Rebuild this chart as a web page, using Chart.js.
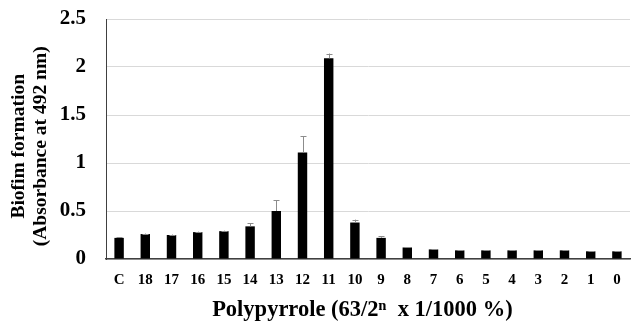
<!DOCTYPE html>
<html>
<head>
<meta charset="utf-8">
<script src="https://cdn.jsdelivr.net/npm/chart.js@4/dist/chart.umd.min.js"></script>
<style>
  html, body { margin: 0; padding: 0; background: #ffffff; }
  #wrap { width: 640px; height: 329px; }
</style>
</head>
<body>
<div id="wrap"><canvas id="c" width="640" height="329"></canvas></div>
<script>
// Polypyrrole dilution steps (C = control)
const categories = ['C', '18', '17', '16', '15', '14', '13', '12', '11', '10', '9', '8', '7', '6', '5', '4', '3', '2', '1', '0'];
// Mean absorbance at 492 nm
const absorbance = [0.22, 0.26, 0.25, 0.28, 0.29, 0.34, 0.50, 1.11, 2.09, 0.38, 0.22, 0.12, 0.10, 0.09, 0.09, 0.09, 0.09, 0.09, 0.08, 0.08];
// Standard deviation (upper whisker)
const errors = [0.005, 0.005, 0.005, 0.005, 0.005, 0.03, 0.11, 0.17, 0.05, 0.03, 0.015, 0.003, 0.003, 0.003, 0.003, 0.003, 0.003, 0.003, 0.003, 0.003];
const yTicks = [0, 0.5, 1, 1.5, 2, 2.5];

const serif = "'Liberation Serif', 'Times New Roman', serif";

// Draws upper error whiskers using the chart's own scales
const errorBars = {
  id: 'errorBars',
  afterDatasetsDraw(chart) {
    const { ctx, scales: { x, y } } = chart;
    ctx.save();
    ctx.strokeStyle = '#8c8c8c';
    ctx.lineWidth = 1;
    absorbance.forEach((v, i) => {
      const err = errors[i];
      if (!err) return;
      const cx = Math.round(x.getPixelForValue(i)) + 0.5;
      const y0 = y.getPixelForValue(v);
      const y1 = y.getPixelForValue(v + err);
      ctx.beginPath();
      ctx.moveTo(cx, y0);
      ctx.lineTo(cx, y1);
      ctx.moveTo(cx - 3, Math.round(y1) + 0.5);
      ctx.lineTo(cx + 3, Math.round(y1) + 0.5);
      ctx.stroke();
    });
    ctx.restore();
  }
};

new Chart(document.getElementById('c'), {
  type: 'bar',
  data: {
    labels: categories,
    datasets: [{
      data: absorbance,
      backgroundColor: '#000000',
      borderWidth: 0,
      barPercentage: 0.36,
      categoryPercentage: 1.0
    }]
  },
  options: {
    responsive: false,
    animation: false,
    devicePixelRatio: 1,
    layout: { padding: { top: 19, right: 10, left: 0, bottom: 0 } },
    plugins: {
      legend: { display: false },
      tooltip: { enabled: false }
    },
    scales: {
      x: {
        grid: { display: false, drawTicks: false },
        border: { color: '#404040', width: 1.5 },
        ticks: {
          color: '#000000',
          font: { family: serif, size: 15, weight: 'bold' },
          padding: 12,
          maxRotation: 0,
          autoSkip: false
        },
        title: {
          display: true,
          // trailing spaces nudge the centred title slightly left
          text: 'Polypyrrole (63/2\u207F  x 1/1000 %)  ',
          color: '#000000',
          font: { family: serif, size: 22.5, weight: 'bold' },
          padding: { top: 4, bottom: 5 }
        },
        afterFit(scale) { scale.height = 70; }
      },
      y: {
        min: 0,
        max: 2.5,
        afterBuildTicks(scale) { scale.ticks = yTicks.map(v => ({ value: v })); },
        grid: { color: '#d9d9d9', lineWidth: 1, drawTicks: false },
        border: { color: '#404040', width: 1 },
        ticks: {
          color: '#000000',
          font: { family: serif, size: 21, weight: 'bold' },
          padding: 20,
          callback: v => String(v)
        },
        title: {
          display: true,
          // trailing spaces move the rotated title a little lower
          text: ['Biofim formation   ', '(Absorbance at 492 nm)   '],
          color: '#000000',
          font: { family: serif, size: 19.5, weight: 'bold', lineHeight: 1.13 },
          padding: { top: 8, bottom: 4 }
        },
        afterFit(scale) {
          scale.width = 106;
          // tick padding is horizontal here; keep it out of the vertical layout
          scale.paddingTop = 0;
          scale.paddingBottom = 0;
        }
      }
    }
  },
  plugins: [errorBars]
});
</script>
</body>
</html>
